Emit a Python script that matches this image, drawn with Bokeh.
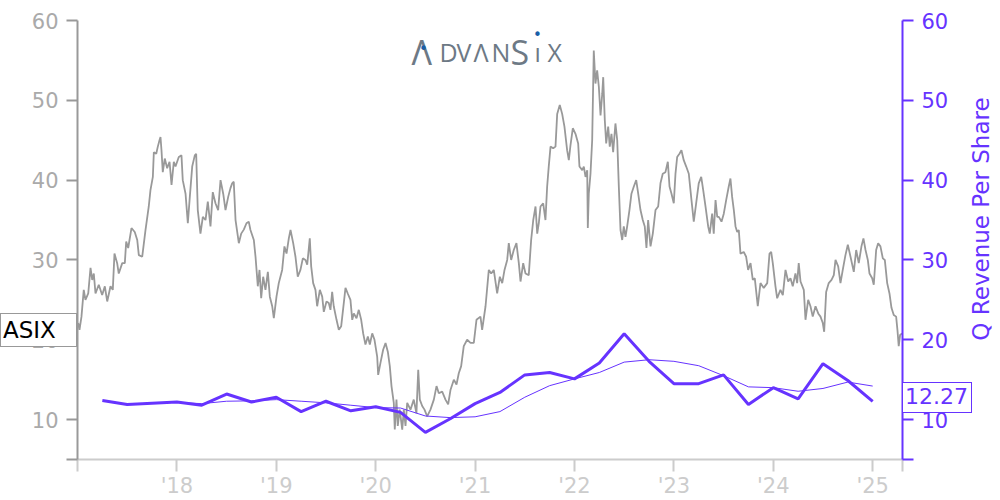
from bokeh.plotting import figure
from bokeh.layouts import column
from bokeh.models import (Range1d, LinearAxis, FixedTicker, CustomJSTickFormatter, Label, Div)
from bokeh.embed import file_html
from bokeh.resources import INLINE

# ---------------- data ----------------
ticker = "ASIX"
series_label = "Q Revenue Per Share"

price_t = [2017.007, 2017.020, 2017.040, 2017.063, 2017.080, 2017.108, 2017.131, 2017.148, 2017.164, 2017.181,
           2017.214, 2017.248, 2017.275, 2017.299, 2017.332, 2017.355, 2017.372, 2017.399, 2017.415, 2017.450,
           2017.476, 2017.490, 2017.510, 2017.543, 2017.576, 2017.601, 2017.617, 2017.651, 2017.684, 2017.717,
           2017.734, 2017.758, 2017.768, 2017.792, 2017.808, 2017.825, 2017.835, 2017.845, 2017.858, 2017.878,
           2017.902, 2017.926, 2017.946, 2017.969, 2017.986, 2018.019, 2018.046, 2018.059, 2018.087, 2018.110,
           2018.130, 2018.154, 2018.180, 2018.194, 2018.210, 2018.237, 2018.261, 2018.288, 2018.311, 2018.338,
           2018.361, 2018.388, 2018.415, 2018.439, 2018.466, 2018.489, 2018.516, 2018.539, 2018.556, 2018.572,
           2018.590, 2018.623, 2018.647, 2018.673, 2018.700, 2018.723, 2018.740, 2018.774, 2018.791, 2018.814,
           2018.831, 2018.848, 2018.868, 2018.891, 2018.915, 2018.935, 2018.959, 2018.975, 2019.002, 2019.025,
           2019.059, 2019.082, 2019.103, 2019.126, 2019.143, 2019.170, 2019.193, 2019.216, 2019.243, 2019.267,
           2019.294, 2019.311, 2019.337, 2019.351, 2019.371, 2019.394, 2019.411, 2019.438, 2019.462, 2019.478,
           2019.505, 2019.528, 2019.545, 2019.562, 2019.578, 2019.606, 2019.629, 2019.653, 2019.679, 2019.696,
           2019.719, 2019.746, 2019.764, 2019.780, 2019.807, 2019.830, 2019.854, 2019.874, 2019.897, 2019.921,
           2019.941, 2019.965, 2019.988, 2020.015, 2020.025, 2020.048, 2020.075, 2020.099, 2020.122, 2020.142,
           2020.159, 2020.182, 2020.192, 2020.209, 2020.222, 2020.242, 2020.267, 2020.283, 2020.300, 2020.317,
           2020.350, 2020.383, 2020.410, 2020.428, 2020.444, 2020.468, 2020.491, 2020.518, 2020.551, 2020.585,
           2020.612, 2020.635, 2020.669, 2020.702, 2020.729, 2020.753, 2020.786, 2020.813, 2020.836, 2020.860,
           2020.886, 2020.920, 2020.954, 2020.987, 2021.014, 2021.054, 2021.071, 2021.105, 2021.138, 2021.162,
           2021.188, 2021.222, 2021.249, 2021.273, 2021.296, 2021.323, 2021.339, 2021.363, 2021.389, 2021.416,
           2021.440, 2021.457, 2021.484, 2021.507, 2021.540, 2021.564, 2021.585, 2021.608, 2021.625, 2021.641,
           2021.658, 2021.685, 2021.708, 2021.725, 2021.741, 2021.759, 2021.786, 2021.809, 2021.826, 2021.852,
           2021.876, 2021.899, 2021.926, 2021.943, 2021.960, 2021.983, 2022.010, 2022.037, 2022.050, 2022.078,
           2022.094, 2022.111, 2022.128, 2022.134, 2022.144, 2022.161, 2022.178, 2022.194, 2022.211, 2022.228,
           2022.245, 2022.262, 2022.279, 2022.289, 2022.305, 2022.319, 2022.339, 2022.355, 2022.372, 2022.389,
           2022.412, 2022.430, 2022.446, 2022.463, 2022.480, 2022.496, 2022.513, 2022.530, 2022.553, 2022.573,
           2022.597, 2022.621, 2022.641, 2022.664, 2022.687, 2022.707, 2022.724, 2022.741, 2022.765, 2022.788,
           2022.815, 2022.842, 2022.865, 2022.888, 2022.915, 2022.939, 2022.956, 2022.976, 2022.999, 2023.016,
           2023.033, 2023.056, 2023.076, 2023.099, 2023.124, 2023.150, 2023.177, 2023.200, 2023.224, 2023.250,
           2023.275, 2023.295, 2023.318, 2023.345, 2023.361, 2023.385, 2023.401, 2023.419, 2023.436, 2023.452,
           2023.479, 2023.502, 2023.526, 2023.552, 2023.569, 2023.586, 2023.603, 2023.620, 2023.637, 2023.653,
           2023.670, 2023.703, 2023.727, 2023.747, 2023.771, 2023.794, 2023.814, 2023.844, 2023.871, 2023.904,
           2023.939, 2023.962, 2023.979, 2023.995, 2024.022, 2024.039, 2024.072, 2024.096, 2024.123, 2024.150,
           2024.173, 2024.196, 2024.223, 2024.240, 2024.256, 2024.274, 2024.307, 2024.324, 2024.351, 2024.374,
           2024.397, 2024.425, 2024.452, 2024.475, 2024.498, 2024.512, 2024.532, 2024.558, 2024.586, 2024.609,
           2024.626, 2024.653, 2024.676, 2024.699, 2024.726, 2024.750, 2024.777, 2024.810, 2024.834, 2024.860,
           2024.887, 2024.907, 2024.928, 2024.951, 2024.968, 2024.995, 2025.011, 2025.035, 2025.055, 2025.078,
           2025.102, 2025.122, 2025.146, 2025.169, 2025.189, 2025.212, 2025.236, 2025.249, 2025.262, 2025.276,
           2025.296]
price_v = [22.1, 21.25, 22.9, 26.25, 25.0, 25.8, 29.0, 27.5, 28.3, 25.8,
           26.9, 25.6, 26.7, 24.8, 26.7, 26.25, 30.8, 29.6, 28.3, 29.6,
           29.6, 32.3, 31.5, 34.0, 33.5, 32.5, 30.6, 30.4, 33.75, 36.7,
           38.75, 40.4, 43.5, 43.3, 44.2, 45.0, 45.4, 43.75, 41.0, 42.7,
           41.5, 42.3, 39.4, 42.3, 41.7, 42.9, 43.1, 40.0, 38.3, 34.6,
           37.9, 41.7, 43.1, 43.3, 36.25, 33.3, 35.4, 35.0, 37.3, 34.2,
           38.5, 37.1, 36.25, 40.0, 38.3, 36.25, 37.9, 39.0, 39.6, 39.8,
           35.0, 32.1, 33.3, 33.8, 34.6, 34.8, 33.75, 32.5, 30.4, 26.7,
           28.75, 25.2, 27.9, 26.25, 28.5, 25.4, 24.2, 22.7, 25.4, 27.1,
           28.75, 31.7, 30.8, 32.7, 33.75, 32.1, 30.4, 27.9, 28.75, 30.2,
           30.0, 29.4, 32.7, 29.2, 27.1, 26.25, 24.2, 26.25, 25.4, 23.5,
           24.8, 24.6, 23.75, 26.0, 24.2, 22.5, 21.25, 21.7, 24.6, 26.5,
           25.8, 25.0, 22.5, 23.3, 22.7, 23.75, 22.5, 20.8, 19.4, 20.4,
           19.4, 20.8, 20.0, 17.9, 15.6, 17.1, 18.75, 19.6, 18.5, 16.7,
           14.2, 12.1, 8.75, 12.5, 9.2, 11.25, 8.75, 11.25, 9.2, 12.1,
           11.25, 12.5, 10.8, 16.25, 12.5, 11.7, 11.25, 10.4, 11.25, 12.5,
           14.2, 13.3, 13.5, 12.5, 11.9, 13.75, 15.0, 14.4, 15.8, 16.7,
           19.2, 20.0, 19.6, 19.6, 22.5, 22.9, 21.25, 24.2, 28.75, 28.3,
           28.75, 25.8, 27.9, 27.1, 28.75, 30.0, 32.1, 30.0, 31.25, 32.1,
           29.6, 27.3, 29.6, 28.3, 28.1, 32.5, 35.0, 36.7, 33.3, 34.6,
           36.7, 37.1, 35.0, 39.2, 41.7, 44.2, 44.0, 44.2, 48.3, 49.4,
           48.3, 46.7, 43.75, 42.5, 44.4, 46.5, 45.8, 44.6, 41.7, 41.25,
           41.7, 40.4, 41.25, 34.0, 38.3, 40.8, 45.0, 56.25, 52.1, 53.75,
           51.7, 48.1, 50.8, 52.9, 47.5, 44.6, 46.7, 44.2, 45.8, 43.5,
           47.1, 45.0, 39.2, 33.75, 32.5, 34.2, 32.9, 34.2, 36.25, 38.3,
           39.2, 40.0, 38.3, 36.25, 35.0, 34.2, 31.5, 35.0, 31.7, 33.3,
           36.25, 36.7, 39.6, 40.8, 41.0, 42.3, 39.2, 38.3, 37.1, 40.8,
           42.9, 43.3, 43.75, 42.5, 41.7, 40.8, 37.5, 34.8, 37.1, 39.6,
           40.4, 38.75, 36.7, 34.2, 33.3, 35.8, 33.3, 37.5, 35.4, 35.4,
           34.8, 35.8, 37.5, 39.2, 40.2, 37.9, 36.25, 34.2, 33.5, 33.75,
           30.8, 31.0, 30.4, 28.75, 29.6, 27.5, 27.7, 24.2, 27.1, 26.5,
           27.1, 30.8, 31.0, 29.6, 26.7, 25.2, 26.25, 25.6, 28.75, 27.3,
           27.7, 26.7, 28.3, 27.1, 29.6, 27.3, 26.25, 22.5, 25.0, 24.2,
           22.9, 24.2, 23.3, 22.9, 22.1, 21.0, 26.0, 27.1, 27.5, 28.1,
           30.0, 29.2, 27.1, 28.75, 30.6, 31.9, 30.4, 28.5, 31.25, 29.6,
           31.7, 32.7, 31.25, 30.0, 28.3, 27.7, 26.9, 31.25, 32.1, 31.7,
           30.2, 30.0, 27.1, 25.8, 24.0, 23.1, 22.9, 21.25, 19.2, 20.6,
           20.8]

quarter_t = [2017.25, 2017.50, 2017.75, 2018.00, 2018.25, 2018.50, 2018.75, 2019.00,
             2019.25, 2019.50, 2019.75, 2020.00, 2020.25, 2020.50, 2020.75, 2021.00,
             2021.25, 2021.50, 2021.75, 2022.00, 2022.25, 2022.50, 2022.75, 2023.00,
             2023.25, 2023.50, 2023.75, 2024.00, 2024.25, 2024.50, 2024.75, 2025.00]
rev_q = [12.4, 11.9, 12.05, 12.2, 11.8, 13.2, 12.2, 12.8,
         11.0, 12.3, 11.1, 11.6, 10.9, 8.4, 10.1, 12.0,
         13.4, 15.6, 15.9, 15.1, 17.1, 20.75, 17.3, 14.5,
         14.5, 15.6, 11.9, 14.0, 12.6, 17.0, 14.9, 12.27]
ttm_t = quarter_t[3:]
rev_ttm = [12.14, 12.0, 12.3, 12.35, 12.5, 12.3, 12.1, 11.8, 11.5,
           11.45, 10.45, 10.25, 10.35, 11.0, 12.8, 14.25, 15.1, 15.9,
           17.2, 17.5, 17.3, 16.75, 15.5, 14.1, 14.0, 13.55, 13.9, 14.7, 14.2]

year_ticks = [2018, 2019, 2020, 2021, 2022, 2023, 2024, 2025]
value_ticks = [5, 10, 20, 30, 40, 50, 60]

# ---------------- layout ----------------
X0, X1 = 2017.0, 2025.30
Y0, Y1 = 5, 60
W, H = 1000, 500
BL, BR, BT, BB = 77, 98, 20, 40
FW, FH = W - BL - BR, H - BT - BB
GREY = "#999999"
LIGHT = "#cccccc"
PURPLE = "#6633ff"
FONT = "DejaVu Sans"
TICK_FS = "21px"

def px2x(px):  # canvas pixel -> data x (annotation placement only)
    return X0 + (px - BL) * (X1 - X0) / FW

def py2y(py):
    return Y1 - (py - BT) * (Y1 - Y0) / FH

def y2py(v):
    return BT + (Y1 - v) * FH / (Y1 - Y0)

fig = figure(width=W, height=H, output_backend="svg", toolbar_location=None,
             x_range=Range1d(X0, X1), y_range=Range1d(Y0, Y1),
             min_border_left=BL, min_border_right=BR, min_border_top=BT, min_border_bottom=BB,
             y_axis_location=None, x_axis_location=None)
fig.outline_line_color = None
fig.xgrid.visible = False
fig.ygrid.visible = False
fig.background_fill_color = "white"
fig.border_fill_color = "white"
fig.extra_y_ranges = {"rev": Range1d(Y0, Y1)}

fmt_y = "return tick < 7 ? '' : tick.toFixed(0);"

# left axis
yl = LinearAxis(ticker=FixedTicker(ticks=value_ticks), formatter=CustomJSTickFormatter(code=fmt_y))
yl.axis_line_color = GREY
yl.axis_line_width = 2
yl.major_tick_line_color = GREY
yl.major_tick_line_width = 2
yl.major_tick_out = 11
yl.major_tick_in = 0
yl.minor_tick_line_color = None
yl.major_label_text_color = "#aaaaaa"
yl.major_label_text_font = FONT
yl.major_label_text_font_size = TICK_FS
yl.major_label_standoff = 8
fig.add_layout(yl, "left")

# right axis (its title is drawn as a rotated HTML overlay below)
yr = LinearAxis(y_range_name="rev", ticker=FixedTicker(ticks=value_ticks),
                formatter=CustomJSTickFormatter(code=fmt_y))
yr.axis_line_color = PURPLE
yr.axis_line_width = 2
yr.major_tick_line_color = PURPLE
yr.major_tick_line_width = 2
yr.major_tick_out = 11
yr.major_tick_in = 0
yr.minor_tick_line_color = None
yr.major_label_text_color = PURPLE
yr.major_label_text_font = FONT
yr.major_label_text_font_size = TICK_FS
yr.major_label_standoff = 8
fig.add_layout(yr, "right")

# x axis
xa = LinearAxis(ticker=FixedTicker(ticks=[X0] + year_ticks + [X1]),
                formatter=CustomJSTickFormatter(
                    code="if (Math.abs(tick - Math.round(tick)) > 1e-6 || tick < 2017.5) return ''; "
                         "return \"'\" + String(Math.round(tick) % 100).padStart(2, '0');"))
xa.axis_line_color = LIGHT
xa.axis_line_width = 2
xa.major_tick_line_color = LIGHT
xa.major_tick_line_width = 2
xa.major_tick_out = 12
xa.major_tick_in = 0
xa.minor_tick_line_color = None
xa.major_label_text_color = LIGHT
xa.major_label_text_font = FONT
xa.major_label_text_font_size = TICK_FS
xa.major_label_standoff = 2
fig.add_layout(xa, "below")

# series
fig.line(price_t, price_v, line_color=GREY, line_width=1.8)
fig.line(ttm_t, rev_ttm, line_color=PURPLE, line_width=1, y_range_name="rev")
fig.line(quarter_t, rev_q, line_color=PURPLE, line_width=3, y_range_name="rev")

# logo (inside the frame)
LOGO = "#6d7985"
LOGO_DOT = "#1a5fa8"
LOGO_FONT = "Open Sans"
base = py2y(52)
for txt, px, size in [("\u039b", 411, "34px"), ("D", 439, "25px"), ("V", 456, "25px"),
                      ("\u039b", 473, "25px"), ("N", 491, "25px"), ("S", 510, "34px"),
                      ("\u0131", 534, "25px"), ("X", 547, "25px")]:
    fig.add_layout(Label(x=px2x(px), y=base, text=txt, text_font=LOGO_FONT, text_font_size=size,
                         text_color=LOGO, text_baseline="alphabetic", text_align="left"))
for px, py in [(423, 49), (537, 35)]:
    fig.add_layout(Label(x=px2x(px), y=py2y(py), text="\u2022", text_font=FONT, text_font_size="15px",
                         text_color=LOGO_DOT, text_baseline="middle", text_align="center"))

# HTML overlays for texts that sit outside the plotting frame
def tag(text, color, border, left, top, width, height, bw, fs):
    inner = (f'<div style="box-sizing:border-box;width:{width}px;height:{height}px;'
             f'border:{bw}px solid {border};background:white;color:{color};'
             f'font-family:\'DejaVu Sans\';font-size:{fs}px;line-height:{height - 2 * bw}px;'
             f'padding-left:2px;white-space:nowrap;">{text}</div>')
    return Div(text=inner, width=width, height=height,
               styles={"position": "absolute", "left": f"{left}px", "top": f"{top}px",
                       "z-index": "10", "margin": "0", "padding": "0"})

tag_left = tag(ticker, "black", GREY, 0, round(y2py(price_v[-1]) - 21), 77, 34, 1, 23)
tag_right = tag(f"{rev_q[-1]:.2f}", PURPLE, PURPLE, BL + FW, round(y2py(rev_q[-1]) - 20), 70, 31, 1.5, 22)

TW, TH = 270, 30
title_cx, title_cy = 981, BT + FH / 2 - 21
axis_title = Div(
    text=(f'<div style="width:{TW}px;height:{TH}px;line-height:{TH}px;text-align:center;'
          f'color:{PURPLE};font-family:\'DejaVu Sans\';font-size:23px;white-space:nowrap;">'
          f'{series_label}</div>'),
    width=TW, height=TH,
    styles={"position": "absolute", "left": f"{title_cx - TW / 2:.0f}px",
            "top": f"{title_cy - TH / 2:.0f}px", "transform": "rotate(-90deg)",
            "transform-origin": "50% 50%", "z-index": "10", "margin": "0", "padding": "0"})

p = column(fig, tag_left, tag_right, axis_title)
html = file_html(p, INLINE)
open("out.html", "w").write(html)
